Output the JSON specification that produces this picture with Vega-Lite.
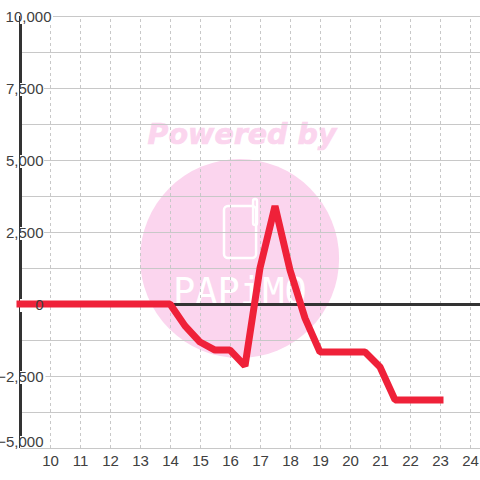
{"$schema":"https://vega.github.io/schema/vega-lite/v6.json","width":460,"height":432,"padding":{"left":20,"top":16,"right":0,"bottom":32},"autosize":"none","background":"white","config":{"view":{"stroke":null},"font":"Liberation Sans"},
"datasets":{
"line":[{"h":9,"v":0},{"h":14,"v":0},{"h":14.5,"v":-760},{"h":15,"v":-1320},{"h":15.5,"v":-1600},{"h":16,"v":-1600},{"h":16.5,"v":-2150},{"h":17,"v":1250},{"h":17.5,"v":3400},{"h":18,"v":1180},{"h":18.5,"v":-490},{"h":19,"v":-1670},{"h":20.5,"v":-1670},{"h":21,"v":-2190},{"h":21.5,"v":-3330},{"h":23,"v":-3330}],
"boxes":[{"h":9,"h2":10.1,"v":10000,"v2":9722},{"h":9,"h2":9.8,"v":7674,"v2":7222},{"h":9,"h2":9.8,"v":5174,"v2":4722},{"h":9,"h2":9.8,"v":2674,"v2":2222},{"h":9,"h2":9.8,"v":174,"v2":-278},{"h":9,"h2":9.85,"v":-2326,"v2":-2778},{"h":9,"h2":9.85,"v":-4583,"v2":-5000}],
"hgrid":[{"h":9,"h2":24.3333,"v":-5000},{"h":9,"h2":24.3333,"v":-3750},{"h":9,"h2":24.3333,"v":-2500},{"h":9,"h2":24.3333,"v":-1250},{"h":9,"h2":24.3333,"v":0},{"h":9,"h2":24.3333,"v":1250},{"h":9,"h2":24.3333,"v":2500},{"h":9,"h2":24.3333,"v":3750},{"h":9,"h2":24.3333,"v":5000},{"h":9,"h2":24.3333,"v":6250},{"h":9,"h2":24.3333,"v":7500},{"h":9,"h2":24.3333,"v":8750},{"h":9,"h2":24.3333,"v":10000}],
"vgrid":[{"h":10,"v":-5000,"v2":10000},{"h":11,"v":-5000,"v2":10000},{"h":12,"v":-5000,"v2":10000},{"h":13,"v":-5000,"v2":10000},{"h":14,"v":-5000,"v2":10000},{"h":15,"v":-5000,"v2":10000},{"h":16,"v":-5000,"v2":10000},{"h":17,"v":-5000,"v2":10000},{"h":18,"v":-5000,"v2":10000},{"h":19,"v":-5000,"v2":10000},{"h":20,"v":-5000,"v2":10000},{"h":21,"v":-5000,"v2":10000},{"h":22,"v":-5000,"v2":10000},{"h":23,"v":-5000,"v2":10000},{"h":24,"v":-5000,"v2":10000}]
},
"encoding":{"x":{"field":"h","type":"quantitative","scale":{"domain":[9,24.3333],"nice":false,"zero":false},"axis":{"values":[10,11,12,13,14,15,16,17,18,19,20,21,22,23,24],"title":null,"domain":false,"ticks":false,"grid":false,"labelFontSize":15,"labelColor":"#404040","labelPadding":5,"labelFont":"Liberation Sans","labelOverlap":false}},"y":{"field":"v","type":"quantitative","scale":{"domain":[-5000,10000],"nice":false,"zero":false},"axis":{"values":[-5000,-2500,0,2500,5000,7500,10000],"labelExpr":"format(datum.value, ',')","title":null,"domain":false,"ticks":false,"grid":false,"zindex":1,"labelFontSize":15,"labelColor":"#404040","labelPadding":{"condition":{"test":"datum.value===10000","value":-31},"value":-23},"labelOffset":{"condition":{"test":"datum.value===-5000","value":-7},"value":0},"labelFont":"Liberation Sans","labelOverlap":false,"labelBound":false,"labelFlush":false}}},
"layer":[
{"data":{"values":[{"h":16.32,"v":1580}]},"mark":{"type":"point","filled":true,"shape":"circle","size":39600,"color":"#fbd5ee","opacity":1,"strokeWidth":0}},
{"data":{"values":[{"h":16.4,"v":5880,"t":"Powered by"}]},"mark":{"type":"text","font":"DejaVu Sans","fontWeight":"bold","fontStyle":"italic","fontSize":28.5,"color":"#fbd5ee","stroke":"#fbd5ee","strokeWidth":0.7,"align":"center","baseline":"middle"},"encoding":{"text":{"field":"t"}}},
{"data":{"values":[{"h":15.8,"h2":16.87,"v":3403,"v2":1597},{"h":16.77,"h2":16.9,"v":3646,"v2":2743}]},"mark":{"type":"rect","fill":null,"stroke":"white","strokeWidth":2.5,"cornerRadius":4},"encoding":{"x2":{"field":"h2"},"y2":{"field":"v2"}}},
{"data":{"values":[{"h":16.33,"v":0,"t":"PAPiMO"}]},"mark":{"type":"text","font":"DejaVu Sans Mono","fontSize":37,"color":"white","align":"center","baseline":"alphabetic"},"encoding":{"text":{"field":"t"}}},
{"data":{"name":"vgrid"},"mark":{"type":"rule","color":"#c8c8c8","strokeWidth":1,"strokeDash":[3,3],"xOffset":0.5},"encoding":{"y2":{"field":"v2"}}},
{"data":{"name":"hgrid"},"mark":{"type":"rule","color":"#c8c8c8","strokeWidth":1,"yOffset":0.5},"encoding":{"x2":{"field":"h2"}}},
{"data":{"values":[{"h":9,"v":-5000,"v2":10000}]},"mark":{"type":"rule","color":"#333333","strokeWidth":3,"xOffset":0.5},"encoding":{"y2":{"field":"v2"}}},
{"data":{"values":[{"h":9,"h2":24.3333,"v":0}]},"mark":{"type":"rule","color":"#333333","strokeWidth":3,"yOffset":0.5},"encoding":{"x2":{"field":"h2"}}},
{"data":{"name":"boxes"},"mark":{"type":"rect","fill":"white","stroke":null},"encoding":{"x2":{"field":"h2"},"y2":{"field":"v2"}}},
{"data":{"name":"line"},"mark":{"type":"line","color":"#ef2139","strokeWidth":7,"strokeCap":"square","strokeJoin":"bevel","interpolate":"linear"}}
]}
